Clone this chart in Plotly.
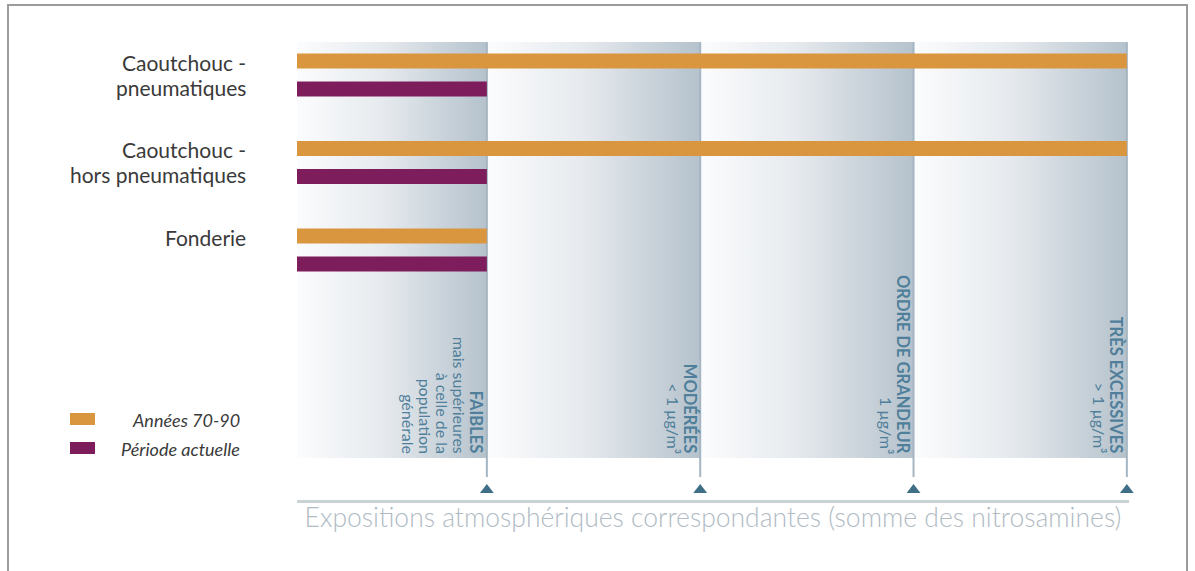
import plotly.graph_objects as go

# ---- data ---------------------------------------------------------------
categories = ["Caoutchouc - pneumatiques", "Caoutchouc - hors pneumatiques", "Fonderie"]
category_lines = [["Caoutchouc -", "pneumatiques"],
                  ["Caoutchouc -", "hors pneumatiques"],
                  ["Fonderie"]]
series_names = ["Années 70-90", "Période actuelle"]
annees_70_90 = [4, 4, 1]        # exposure level reached (1 = faibles ... 4 = très excessives)
periode_actuelle = [1, 1, 1]

level_positions = [1, 2, 3, 4]
level_labels = [
    ["FAIBLES", "mais supérieures", "à celle de la", "population", "générale"],
    ["MODÉRÉES", "&lt; 1 µg/m³"],
    ["ORDRE DE GRANDEUR", "1 µg/m³"],
    ["TRÈS EXCESSIVES", "&gt; 1 µg/m³"],
]
axis_title = "Expositions atmosphériques correspondantes (somme des nitrosamines)"

# ---- styling ------------------------------------------------------------
W, H = 1195, 571
PLOT_L, PLOT_R, PLOT_T, PLOT_B = 297, 1129, 42, 500
ORANGE = "#d9963f"
PURPLE = "#7e1d5c"
LEVEL_TXT = "#4f7f9a"
TRIANGLE = "#3f6f86"
DIVIDER = "#a5b6c2"
LABEL_TXT = "#3a3a3a"
FONT = "Lato"
ZONE_SCALE = [[0.0, "#fbfcfd"], [0.45, "#e6eaee"], [1.0, "#b5c2cc"]]

X_MIN, X_MAX = 0.11, 4.01
GROUP0_PX, GROUP_STEP = 75.1, 87.5


def py_to_y(py):
    """pixel row -> y data value"""
    return (py - GROUP0_PX) / GROUP_STEP


def px_x(px):
    return (px - PLOT_L) / (PLOT_R - PLOT_L)


def px_y(py):
    return (PLOT_B - py) / (PLOT_B - PLOT_T)


Y_TOP = py_to_y(PLOT_T)
Y_BOTTOM = py_to_y(PLOT_B)
Y_ZONE_BOT = py_to_y(458)
Y_DIV_BOT = py_to_y(477)
Y_TRI = py_to_y(490)
Y_TXT_BOT = py_to_y(456)

fig = go.Figure()

# shaded exposure zones (base axes), each fading from white to grey-blue
for i, lv in enumerate(level_positions):
    x0 = X_MIN if i == 0 else level_positions[i - 1]
    fig.add_trace(go.Scatter(
        x=[x0, lv, lv, x0, x0],
        y=[Y_TOP, Y_TOP, Y_ZONE_BOT, Y_ZONE_BOT, Y_TOP],
        mode="lines", line=dict(width=0), fill="toself",
        fillgradient=dict(type="horizontal", colorscale=ZONE_SCALE, start=x0, stop=lv),
        hoverinfo="skip", showlegend=False,
    ))

# divider lines at each level boundary
div_x, div_y = [], []
for lv in level_positions:
    div_x += [lv, lv, None]
    div_y += [Y_TOP, Y_DIV_BOT, None]
fig.add_trace(go.Scatter(x=div_x, y=div_y, mode="lines",
                         line=dict(color=DIVIDER, width=2),
                         hoverinfo="skip", showlegend=False))

# bars on an overlaid pair of axes so they sit above the shaded zones
y_idx = list(range(len(categories)))
for name, vals, col in [(series_names[0], annees_70_90, ORANGE),
                        (series_names[1], periode_actuelle, PURPLE)]:
    fig.add_trace(go.Bar(
        orientation="h", x=vals, y=y_idx, name=name,
        xaxis="x2", yaxis="y2",
        marker=dict(color=col, line=dict(width=0)),
        customdata=categories,
        hovertemplate="%{customdata}<br>" + name + " : niveau %{x}<extra></extra>",
        showlegend=False,
    ))

# level markers on the exposure axis
fig.add_trace(go.Scatter(
    x=level_positions, y=[Y_TRI] * len(level_positions), mode="markers",
    xaxis="x2", yaxis="y2",
    marker=dict(symbol="triangle-up", size=12, color=TRIANGLE),
    cliponaxis=False, hoverinfo="skip", showlegend=False,
))

shapes = []
# outer frame
shapes.append(dict(type="rect", xref="paper", yref="paper",
                   x0=px_x(8), x1=px_x(1187), y0=px_y(600), y1=px_y(5),
                   line=dict(color="#9c9c9c", width=2), fillcolor="rgba(0,0,0,0)", layer="above"))

# legend swatches
for k, col in enumerate([ORANGE, PURPLE]):
    top = 413 + k * 29
    shapes.append(dict(type="rect", xref="paper", yref="paper",
                       x0=px_x(70), x1=px_x(95), y0=px_y(top + 12), y1=px_y(top),
                       line=dict(width=0), fillcolor=col))

annotations = []
# category labels, first line level with the upper bar
for g, lines in enumerate(category_lines):
    for k, line in enumerate(lines):
        annotations.append(dict(
            xref="paper", yref="y", x=px_x(248), y=g, xanchor="right", yanchor="middle",
            yshift=13 - 25 * k, text=line, showarrow=False,
            font=dict(family=FONT, size=21, color=LABEL_TXT),
        ))

# rotated level labels beside each divider
for lv, lines in zip(level_positions, level_labels):
    for k, line in enumerate(lines):
        annotations.append(dict(
            xref="x", yref="y", x=lv, y=Y_TXT_BOT, xanchor="center", yanchor="bottom",
            xshift=-10 - 17 * k, textangle=90, text=line, showarrow=False,
            font=dict(family=FONT, size=16.5 if k == 0 else 16, color=LEVEL_TXT,
                      weight="bold" if k == 0 else "normal"),
        ))

# legend texts
for k, name in enumerate(series_names):
    annotations.append(dict(
        xref="paper", yref="paper", x=px_x(242), y=px_y(420 + k * 29),
        xanchor="right", yanchor="middle", text=name, showarrow=False,
        font=dict(family=FONT, size=18, color=LABEL_TXT, style="italic"),
    ))

hidden = dict(showgrid=False, zeroline=False, showticklabels=False, ticks="", showline=False)

fig.update_layout(
    width=W, height=H,
    margin=dict(l=PLOT_L, r=W - PLOT_R, t=PLOT_T, b=H - PLOT_B, pad=0),
    paper_bgcolor="white", plot_bgcolor="white",
    barmode="group", bargap=0.36, bargroupgap=0.465,
    shapes=shapes, annotations=annotations,
    xaxis=dict(range=[X_MIN, X_MAX], showgrid=False, zeroline=False,
               showticklabels=False, ticks="", showline=True,
               linecolor="#c9d3d3", linewidth=3,
               title=dict(text=axis_title, standoff=7,
                          font=dict(family=FONT, size=26.5, color="#b0bbc4", weight=300))),
    yaxis=dict(range=[Y_BOTTOM, Y_TOP], **hidden),
    xaxis2=dict(range=[X_MIN, X_MAX], overlaying="x", visible=False, **hidden),
    yaxis2=dict(range=[Y_BOTTOM, Y_TOP], overlaying="y", visible=False, **hidden),
    showlegend=False,
)

fig.write_html("out.html")
